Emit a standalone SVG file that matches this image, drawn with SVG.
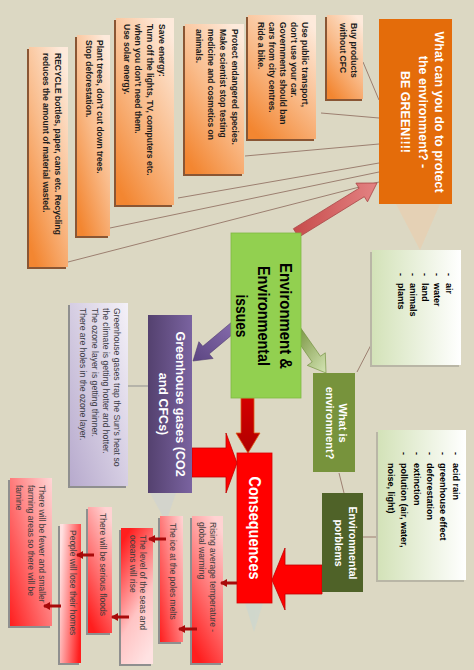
<svg xmlns="http://www.w3.org/2000/svg" width="474" height="670" viewBox="0 0 474 670">
<defs>
<linearGradient id="gOr" x1="0.8" y1="0" x2="0.2" y2="1"><stop offset="0" stop-color="#fdeadb"/><stop offset="0.5" stop-color="#f9bb8a"/><stop offset="1" stop-color="#f38631"/></linearGradient>
<linearGradient id="gLav" x1="1" y1="0" x2="0" y2="1"><stop offset="0" stop-color="#f4f1f8"/><stop offset="1" stop-color="#b7aacd"/></linearGradient>
<linearGradient id="gPur" x1="0" y1="0" x2="1" y2="0"><stop offset="0" stop-color="#54416f"/><stop offset="1" stop-color="#7a63a0"/></linearGradient>
<linearGradient id="gLg" x1="0" y1="0" x2="1" y2="0"><stop offset="0" stop-color="#d3e2b8"/><stop offset="1" stop-color="#ffffff"/></linearGradient>
<linearGradient id="gRdown" x1="0.7" y1="0" x2="0.3" y2="1"><stop offset="0" stop-color="#ffd2d2"/><stop offset="1" stop-color="#ff1e1e"/></linearGradient>
<linearGradient id="gRup" x1="0.3" y1="0" x2="0.7" y2="1"><stop offset="0" stop-color="#ff1e1e"/><stop offset="0.6" stop-color="#ffc4c4"/><stop offset="1" stop-color="#ffe2e2"/></linearGradient>
<linearGradient id="gRright" x1="0" y1="0.3" x2="1" y2="0.7"><stop offset="0" stop-color="#ffe0e0"/><stop offset="1" stop-color="#ff1e1e"/></linearGradient>
<linearGradient id="gRleft" x1="1" y1="0" x2="0" y2="1"><stop offset="0" stop-color="#ffd6d6"/><stop offset="1" stop-color="#ff1e1e"/></linearGradient>
<linearGradient id="gPink" x1="0" y1="0" x2="1" y2="0"><stop offset="0" stop-color="#c74b4b"/><stop offset="1" stop-color="#e38383"/></linearGradient>
<linearGradient id="gGrA" x1="0" y1="0" x2="1" y2="1"><stop offset="0" stop-color="#6f8c35"/><stop offset="1" stop-color="#d4e4b4"/></linearGradient>
<linearGradient id="gPuA" x1="1" y1="0" x2="0" y2="1"><stop offset="0" stop-color="#8a6fb0"/><stop offset="1" stop-color="#5c4682"/></linearGradient>
<linearGradient id="gDR" x1="0" y1="0" x2="0" y2="1"><stop offset="0" stop-color="#d40000"/><stop offset="1" stop-color="#b00000"/></linearGradient>
<marker id="ah" markerUnits="userSpaceOnUse" markerWidth="8" markerHeight="8" refX="6" refY="4" orient="auto"><path d="M0,0 L7,4 L0,8 z" fill="#a80a0a"/></marker>
</defs>
<style>
text{font-family:"Liberation Sans",Arial,sans-serif}
.ot{font-size:8.5px;font-weight:bold;fill:#1c1c1c}
.ct{font-size:8.5px;fill:#3c3c3c}
.lt{font-size:9px;font-weight:bold;fill:#000}
.sh{fill:#8a5634}
.gs{fill:#8f8f8f}
.thin{stroke:#9c7f70;stroke-width:1;fill:none}
.sa{stroke:#a80a0a;stroke-width:3;fill:none;marker-end:url(#ah)}
</style>
<rect x="0" y="0" width="474" height="670" fill="#dcd8c3"/>
<g id="reflections" opacity="0.35">
<polygon points="396,204 440,204 420,250" fill="#f6c69c"/>
<polygon points="150,493 176,493 166,522" fill="#c4cedc"/>
<polygon points="245,603 263,603 254,632" fill="#bcd6de"/>
</g>
<g id="connectors">
<line class="thin" x1="363" y1="62" x2="379" y2="100"/>
<line class="thin" x1="321" y1="113" x2="379" y2="118"/>
<line class="thin" x1="245" y1="156" x2="379" y2="144"/>
<line class="thin" x1="178" y1="198" x2="379" y2="163"/>
<line class="thin" x1="110" y1="228" x2="379" y2="172"/>
<line class="thin" x1="68" y1="262" x2="379" y2="182"/>
<line x1="128" y1="386" x2="148" y2="386" stroke="#8f8f8f" stroke-width="1"/>
<line class="thin" x1="357" y1="372" x2="372" y2="343"/>
<line class="thin" x1="339" y1="473" x2="344" y2="493"/>
<line class="thin" x1="363" y1="537" x2="378" y2="537"/>
<polygon points="293.4,228.7 359.1,188.2 355.9,183.1 377,183 367.5,201.8 364.3,196.7 298.6,237.3" fill="url(#gPink)" stroke="#a84545" stroke-width="0.8"/>
<polygon points="300.1,327.1 320.4,356.2 325.3,352.8 326,373 307.3,365.4 312.2,362 291.9,332.9" fill="url(#gGrA)" stroke="#6a8a34" stroke-width="0.6"/>
<polygon points="239.2,328.8 209.2,353.9 213.1,358.5 193,361 198.9,341.7 202.8,346.3 232.8,321.2" fill="url(#gPuA)" stroke="#4f3b6e" stroke-width="0.6"/>
<polygon points="241,398 254,398 254,433 260,433 248,453 236,433 241,433" fill="url(#gDR)" stroke="#e0601a" stroke-width="0.8"/>
<polygon points="192,448 226,448 226,433 237,463 226,493 226,477 192,477" fill="#ff0000" stroke="#c00000" stroke-width="0.8"/>
<polygon points="322,565 285,565 285,548 272,580 285,610 285,594 322,594" fill="#ff0000" stroke="#c00000" stroke-width="0.8"/>
</g>
<g id="title">
<rect x="379" y="19" width="73" height="185" fill="#e46c0a"/>
<text transform="translate(434.5,112) rotate(90)" text-anchor="middle" font-size="12.5" fill="#fff" font-weight="bold"><tspan x="0" dy="0">What can you do to protect</tspan><tspan x="0" dy="16">the environment? -</tspan><tspan x="0" dy="17.5">BE GREEN!!!!</tspan></text>
</g>
<g id="buy">
<rect class="sh" x="325" y="17" width="37" height="84"/>
<rect x="327" y="15" width="36" height="84" fill="url(#gOr)"/>
<text class="ot" transform="translate(351,23) rotate(90)"><tspan x="0" dy="0">Buy products</tspan><tspan x="0" dy="11">without CFC</tspan></text>
</g>
<g id="transport">
<rect class="sh" x="246" y="17" width="68" height="124"/>
<rect x="248" y="15" width="68" height="124" fill="url(#gOr)"/>
<text class="ot" transform="translate(302,22) rotate(90)"><tspan x="0" dy="0">Use public transport,</tspan><tspan x="0" dy="11">don’t use your car.</tspan><tspan x="0" dy="11">Governments should ban</tspan><tspan x="0" dy="11">cars from city centres.</tspan><tspan x="0" dy="11">Ride a bike.</tspan></text>
</g>
<g id="protect">
<rect class="sh" x="183" y="26" width="59" height="150"/>
<rect x="185" y="24" width="59" height="150" fill="url(#gOr)"/>
<text class="ot" transform="translate(232,29) rotate(90)"><tspan x="0" dy="0">Protect endangered species.</tspan><tspan x="0" dy="12">Make scientist stop testing</tspan><tspan x="0" dy="12">medicine and cosmetics on</tspan><tspan x="0" dy="12">animals.</tspan></text>
</g>
<g id="energy">
<rect class="sh" x="114" y="20" width="58" height="187"/>
<rect x="116" y="18" width="58" height="187" fill="url(#gOr)"/>
<text class="ot" transform="translate(159,24) rotate(90)"><tspan x="0" dy="0">Save energy:</tspan><tspan x="0" dy="12">Turn off the lights, TV, computers etc.</tspan><tspan x="0" dy="12">when you don’t need them.</tspan><tspan x="0" dy="11.5">Use solar energy.</tspan></text>
</g>
<g id="trees">
<rect class="sh" x="75" y="37" width="33" height="201"/>
<rect x="77" y="35" width="33" height="201" fill="url(#gOr)"/>
<text class="ot" transform="translate(97,40) rotate(90)"><tspan x="0" dy="0">Plant trees, don’t cut down trees.</tspan><tspan x="0" dy="11">Stop deforestation.</tspan></text>
</g>
<g id="recycle">
<rect class="sh" x="27" y="49" width="39" height="220"/>
<rect x="29" y="47" width="39" height="220" fill="url(#gOr)"/>
<text class="ot" transform="translate(55,53) rotate(90)"><tspan x="0" dy="0">RECYCLE bottles, paper, cans etc. Recycling</tspan><tspan x="0" dy="12">reduces the amount of material wasted.</tspan></text>
</g>
<g id="environment">
<rect x="231" y="233" width="70" height="165" fill="#92d050" stroke="#7fb843" stroke-width="0.8"/>
<text transform="translate(280,316) rotate(90)" text-anchor="middle" font-size="17" font-weight="bold" fill="#000"><tspan x="0" dy="0" textLength="106" lengthAdjust="spacingAndGlyphs">Environment &amp;</tspan><tspan x="0" dy="22" textLength="100" lengthAdjust="spacingAndGlyphs">Environmental</tspan><tspan x="0" dy="22" textLength="43" lengthAdjust="spacingAndGlyphs">issues</tspan></text>
</g>
<g id="whatis">
<rect x="313" y="373" width="42" height="99" fill="#77933c"/>
<text transform="translate(339,423) rotate(90)" text-anchor="middle" font-size="11" font-weight="bold" fill="#fff"><tspan x="0" dy="0">What is</tspan><tspan x="0" dy="13">environment?</tspan></text>
</g>
<g id="airbox">
<rect x="370" y="252" width="89" height="115" fill="#b9b6a6"/>
<rect x="372" y="250" width="89" height="115" fill="url(#gLg)"/>
<text class="lt" transform="translate(446,273) rotate(90)"><tspan x="0" dy="0">-</tspan><tspan x="0" dy="12">-</tspan><tspan x="0" dy="12">-</tspan><tspan x="0" dy="12">-</tspan><tspan x="0" dy="12">-</tspan></text>
<text class="lt" transform="translate(446,283) rotate(90)"><tspan x="0" dy="0">air</tspan><tspan x="0" dy="12">water</tspan><tspan x="0" dy="12">land</tspan><tspan x="0" dy="12">animals</tspan><tspan x="0" dy="12">plants</tspan></text>
</g>
<g id="problems">
<rect x="322" y="493" width="41" height="99" fill="#4f6228"/>
<text transform="translate(348.5,543) rotate(90)" text-anchor="middle" font-size="10.5" font-weight="bold" fill="#fff"><tspan x="0" dy="0">Environmental</tspan><tspan x="0" dy="14">porblems</tspan></text>
</g>
<g id="acidbox">
<rect x="376" y="432" width="88" height="150" fill="#b9b6a6"/>
<rect x="378" y="430" width="88" height="150" fill="url(#gLg)"/>
<text class="lt" transform="translate(453,452) rotate(90)"><tspan x="0" dy="0">-</tspan><tspan x="0" dy="13">-</tspan><tspan x="0" dy="13">-</tspan><tspan x="0" dy="13">-</tspan><tspan x="0" dy="13">-</tspan></text>
<text class="lt" transform="translate(453,463) rotate(90)"><tspan x="0" dy="0">acid rain</tspan><tspan x="0" dy="13">greenhouse effect</tspan><tspan x="0" dy="13">deforestation</tspan><tspan x="0" dy="13">extinction</tspan><tspan x="0" dy="13">pollution (air, water,</tspan><tspan x="0" dy="13">noise, light)</tspan></text>
</g>
<g id="consequences">
<rect x="237" y="453" width="35" height="150" fill="#ff0000" stroke="#d80000" stroke-width="0.8"/>
<text transform="translate(248.5,528) rotate(90)" text-anchor="middle" font-size="16" font-weight="bold" fill="#fff" textLength="103" lengthAdjust="spacingAndGlyphs">Consequences</text>
</g>
<g id="greenhouse">
<rect x="148" y="315" width="44" height="178" fill="url(#gPur)"/>
<text transform="translate(175.5,404) rotate(90)" text-anchor="middle" font-size="12.5" font-weight="bold" fill="#fff"><tspan x="0" dy="0">Greenhouse gases (CO2</tspan><tspan x="0" dy="17">and CFCs)</tspan></text>
</g>
<g id="ghtext">
<rect class="gs" x="68" y="305" width="58" height="183"/>
<rect x="70" y="303" width="58" height="183" fill="url(#gLav)"/>
<text transform="translate(114,308) rotate(90)" font-size="8.6" fill="#3c3c46"><tspan x="0" dy="0">Greenhouse gases trap the Sun’s heat so</tspan><tspan x="0" dy="11">the climate is getting hotter and hotter.</tspan><tspan x="0" dy="11.5">The ozone layer is getting thinner.</tspan><tspan x="0" dy="11.5">There are holes in the ozone layer.</tspan></text>
</g>
<g id="c1">
<rect class="gs" x="190" y="518" width="31" height="147"/>
<rect x="192" y="516" width="31" height="147" fill="url(#gRdown)"/>
<text class="ct" transform="translate(210,522) rotate(90)"><tspan x="0" dy="0">Rising average temperature -</tspan><tspan x="0" dy="11">global warming</tspan></text>
</g>
<g id="c2">
<rect class="gs" x="158" y="518" width="23" height="126"/>
<rect x="160" y="516" width="23" height="126" fill="url(#gRleft)"/>
<text class="ct" transform="translate(170,523) rotate(90)">The ice at the poles melts</text>
</g>
<g id="c3">
<rect class="gs" x="119" y="530" width="32" height="136"/>
<rect x="121" y="528" width="32" height="136" fill="url(#gRup)"/>
<text class="ct" transform="translate(140,535) rotate(90)"><tspan x="0" dy="0">The level of the seas and</tspan><tspan x="0" dy="10.5">oceans will rise</tspan></text>
</g>
<g id="c4">
<rect class="gs" x="86" y="509" width="24" height="126"/>
<rect x="88" y="507" width="24" height="126" fill="url(#gRdown)"/>
<text class="ct" transform="translate(100,513) rotate(90)">There will be serious floods</text>
</g>
<g id="c5">
<rect class="gs" x="58" y="526" width="21" height="139"/>
<rect x="60" y="524" width="21" height="139" fill="url(#gRright)"/>
<text class="ct" transform="translate(70,530) rotate(90)">People will lose their homes</text>
</g>
<g id="c6">
<rect class="gs" x="8" y="480" width="42" height="148"/>
<rect x="10" y="478" width="42" height="148" fill="url(#gRleft)"/>
<text class="ct" transform="translate(39,485) rotate(90)"><tspan x="0" dy="0">There will be fewer and smaller</tspan><tspan x="0" dy="11.5">farming areas so there will be</tspan><tspan x="0" dy="11.5">famine</tspan></text>
</g>
<g id="smallarrows">
<line class="sa" x1="237" y1="583" x2="221" y2="583"/>
<line class="sa" x1="197" y1="629" x2="179" y2="629"/>
<line class="sa" x1="166" y1="539" x2="149" y2="539"/>
<line class="sa" x1="129" y1="617" x2="112" y2="617"/>
<line class="sa" x1="94" y1="555" x2="77" y2="555"/>
<line class="sa" x1="61" y1="606" x2="44" y2="606"/>
</g>
</svg>
